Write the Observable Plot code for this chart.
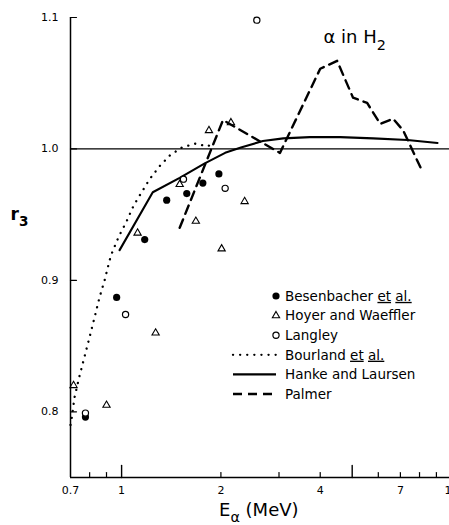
<!DOCTYPE html>
<html><head><meta charset="utf-8">
<script src="https://cdn.jsdelivr.net/npm/d3@7"></script>
<script src="https://cdn.jsdelivr.net/npm/@observablehq/plot@0.6"></script>
<style>
html,body{margin:0;padding:0;background:#fff;overflow:hidden;}
svg{max-width:none !important;}
</style></head><body><div id="chart"></div>
<script>
// ---- data ----
const besenbacherE = [0.777, 0.966, 1.175, 1.37, 1.576, 1.763, 1.972];
const besenbacherR = [0.796, 0.887, 0.931, 0.961, 0.966, 0.974, 0.981];
const hoyerE = [0.715, 0.90, 1.118, 1.268, 1.50, 1.679, 1.84, 2.01, 2.145, 2.36];
const hoyerR = [0.820, 0.805, 0.936, 0.860, 0.973, 0.945, 1.014, 0.924, 1.020, 0.960];
const langleyE = [0.777, 1.028, 1.54, 2.06, 2.57];
const langleyR = [0.799, 0.874, 0.977, 0.970, 1.098];
const bourlandE = [0.70, 0.705, 0.72, 0.745, 0.772, 0.80, 0.834, 0.857, 0.888, 0.919, 0.932, 0.979, 1.036, 1.088, 1.15, 1.216, 1.305, 1.40, 1.52, 1.667, 1.825, 1.88];
const bourlandR = [0.790, 0.794, 0.811, 0.827, 0.842, 0.857, 0.875, 0.887, 0.900, 0.915, 0.920, 0.933, 0.945, 0.957, 0.967, 0.977, 0.987, 0.995, 1.001, 1.004, 1.002, 1.004];
const hankeE = [0.986, 1.243, 1.50, 1.787, 2.06, 2.30, 2.68, 3.09, 3.72, 4.6, 5.79, 7.35, 9.07];
const hankeR = [0.923, 0.967, 0.978, 0.989, 0.997, 1.001, 1.006, 1.008, 1.009, 1.009, 1.008, 1.0068, 1.0045];
const palmerE = [1.50, 1.81, 2.03, 3.02, 4.0, 4.5, 5.03, 5.55, 6.08, 6.65, 7.14, 8.05];
const palmerR = [0.940, 0.991, 1.022, 0.997, 1.061, 1.067, 1.039, 1.035, 1.019, 1.023, 1.014, 0.986];

const xTickLabels = [0.7, 1, 2, 4, 7, 10];
const xMajorTicks = [1, 5, 10];
const xMinorTicks = [0.8, 0.9, 2, 3, 4, 6, 7, 8, 9];
const yTickLabels = [0.8, 0.9, 1.0, 1.1];
const referenceLine = [1.0];
const xDomain = [0.7, 10];
const yDomain = [0.75, 1.1];

const titleText = "α in H_2";
const xLabel = "E_α (MeV)";
const yLabel = "r_3";
const legendLabels = ["Besenbacher {et} {al.}", "Hoyer and Waeffler", "Langley", "Bourland {et} {al.}", "Hanke and Laursen", "Palmer"];
const legendKinds = ["filled", "triangle", "open", "dotted", "solid", "dashed"];

// ---- styles ----
const FONT = "DejaVu Sans";
const styles = {
  filled: {r: 3.6, fill: "black", stroke: "none"},
  open: {r: 3.1, fill: "white", stroke: "black", strokeWidth: 1.2},
  triangle: {r: 2.7, fill: "none", stroke: "black", strokeWidth: 1.1},
  dotted: {strokeDasharray: "0.1,7", strokeLinecap: "round", strokeWidth: 2.3},
  solid: {strokeWidth: 2.1},
  dashed: {strokeDasharray: "9,6", strokeWidth: 2.4}
};
const rows = (E, R) => E.map((e, i) => ({E: e, r: R[i]}));
const tickShape = {draw(ctx, l) { ctx.moveTo(0, 0); ctx.lineTo(0, -l); }};

const chart = Plot.plot({
  width: 455, height: 525,
  marginLeft: 70, marginRight: 4, marginTop: 17, marginBottom: 48,
  x: {type: "log", domain: xDomain, axis: null},
  y: {domain: yDomain, axis: null},
  style: {fontFamily: FONT, background: "white", color: "black", overflow: "visible", maxWidth: "none"},
  marks: [
    Plot.ruleX([xDomain[0]], {strokeWidth: 1.5}),
    Plot.ruleY([yDomain[0]], {strokeWidth: 1.6}),
    Plot.ruleY(referenceLine, {strokeWidth: 1.2}),
    Plot.vector(xMajorTicks, {x: d => d, frameAnchor: "bottom", length: 12, anchor: "start", shape: tickShape, strokeWidth: 1.4}),
    Plot.vector(xMinorTicks, {x: d => d, frameAnchor: "bottom", length: 5, anchor: "start", shape: tickShape, strokeWidth: 1.2}),
    Plot.vector(yTickLabels, {y: d => d, frameAnchor: "left", length: 6, rotate: 90, anchor: "start", shape: tickShape, strokeWidth: 1.2}),
    Plot.text(xTickLabels, {x: d => d, frameAnchor: "bottom", dy: 16, text: d => String(d), fontSize: 11, letterSpacing: 1}),
    Plot.text(yTickLabels, {y: d => d, frameAnchor: "left", dx: -12, textAnchor: "end", text: d => d.toFixed(1), fontSize: 11, letterSpacing: 1}),
    Plot.line(rows(bourlandE, bourlandR), {x: "E", y: "r", ...styles.dotted}),
    Plot.line(rows(hankeE, hankeR), {x: "E", y: "r", ...styles.solid}),
    Plot.line(rows(palmerE, palmerR), {x: "E", y: "r", ...styles.dashed}),
    Plot.dot(rows(besenbacherE, besenbacherR), {x: "E", y: "r", ...styles.filled}),
    Plot.dot(rows(hoyerE, hoyerR), {x: "E", y: "r", symbol: "triangle", ...styles.triangle}),
    Plot.dot(rows(langleyE, langleyR), {x: "E", y: "r", ...styles.open}),
    Plot.text([titleText], {frameAnchor: "top-right", dx: -128, dy: 13, textAnchor: "start", fontSize: 18}),
    Plot.text([yLabel], {frameAnchor: "left", dx: -60, dy: -33, textAnchor: "start", fontSize: 17, fontWeight: "bold"}),
    Plot.text([xLabel], {frameAnchor: "bottom", dx: -42, dy: 38, textAnchor: "start", fontSize: 18, letterSpacing: 1.5})
  ]
});

// ---- legend ----
const svg = d3.select(chart);
const lg = svg.append("g").attr("font-family", FONT).attr("font-size", 13.5)
  .attr("fill", "black").attr("text-anchor", "start");
legendLabels.forEach((lab, i) => {
  const y = 296 + i * 19.6;
  const kind = legendKinds[i];
  const st = styles[kind];
  if (kind === "filled" || kind === "open") {
    lg.append("circle").attr("cx", 276).attr("cy", y).attr("r", st.r)
      .attr("fill", st.fill).attr("stroke", st.stroke).attr("stroke-width", st.strokeWidth || 0);
  } else if (kind === "triangle") {
    lg.append("path").attr("d", d3.symbol(d3.symbolTriangle, Math.PI * st.r * st.r)())
      .attr("transform", `translate(276,${y})`).attr("fill", "none").attr("stroke", "black").attr("stroke-width", st.strokeWidth);
  } else {
    lg.append("line").attr("x1", 233).attr("x2", 276).attr("y1", y).attr("y2", y)
      .attr("stroke", "black").attr("stroke-width", st.strokeWidth)
      .attr("stroke-dasharray", st.strokeDasharray || null)
      .attr("stroke-linecap", st.strokeLinecap || null);
  }
  lg.append("text").attr("x", 285).attr("y", y).attr("dy", "0.36em").attr("text-anchor", "start").text(lab);
});

// ---- rich text: _x subscript, {..} underline ----
function richify(node) {
  node.querySelectorAll("text").forEach(t => {
    const s = t.textContent;
    if (!/[_{]/.test(s)) return;
    t.textContent = "";
    const re = /_(.)|\{([^}]*)\}|([^_{]+)/g;
    let m, shifted = false;
    while ((m = re.exec(s))) {
      const ts = document.createElementNS("http://www.w3.org/2000/svg", "tspan");
      if (m[1] !== undefined) {
        ts.textContent = m[1];
        ts.setAttribute("font-size", "0.8em");
        ts.setAttribute("dy", "0.45em");
        shifted = true;
      } else {
        ts.textContent = m[2] !== undefined ? m[2] : m[3];
        if (m[2] !== undefined) ts.setAttribute("text-decoration", "underline");
        if (shifted) { ts.setAttribute("dy", "-0.36em"); shifted = false; }
      }
      t.appendChild(ts);
    }
  });
}
richify(chart);
document.getElementById("chart").appendChild(chart);
</script></body></html>
